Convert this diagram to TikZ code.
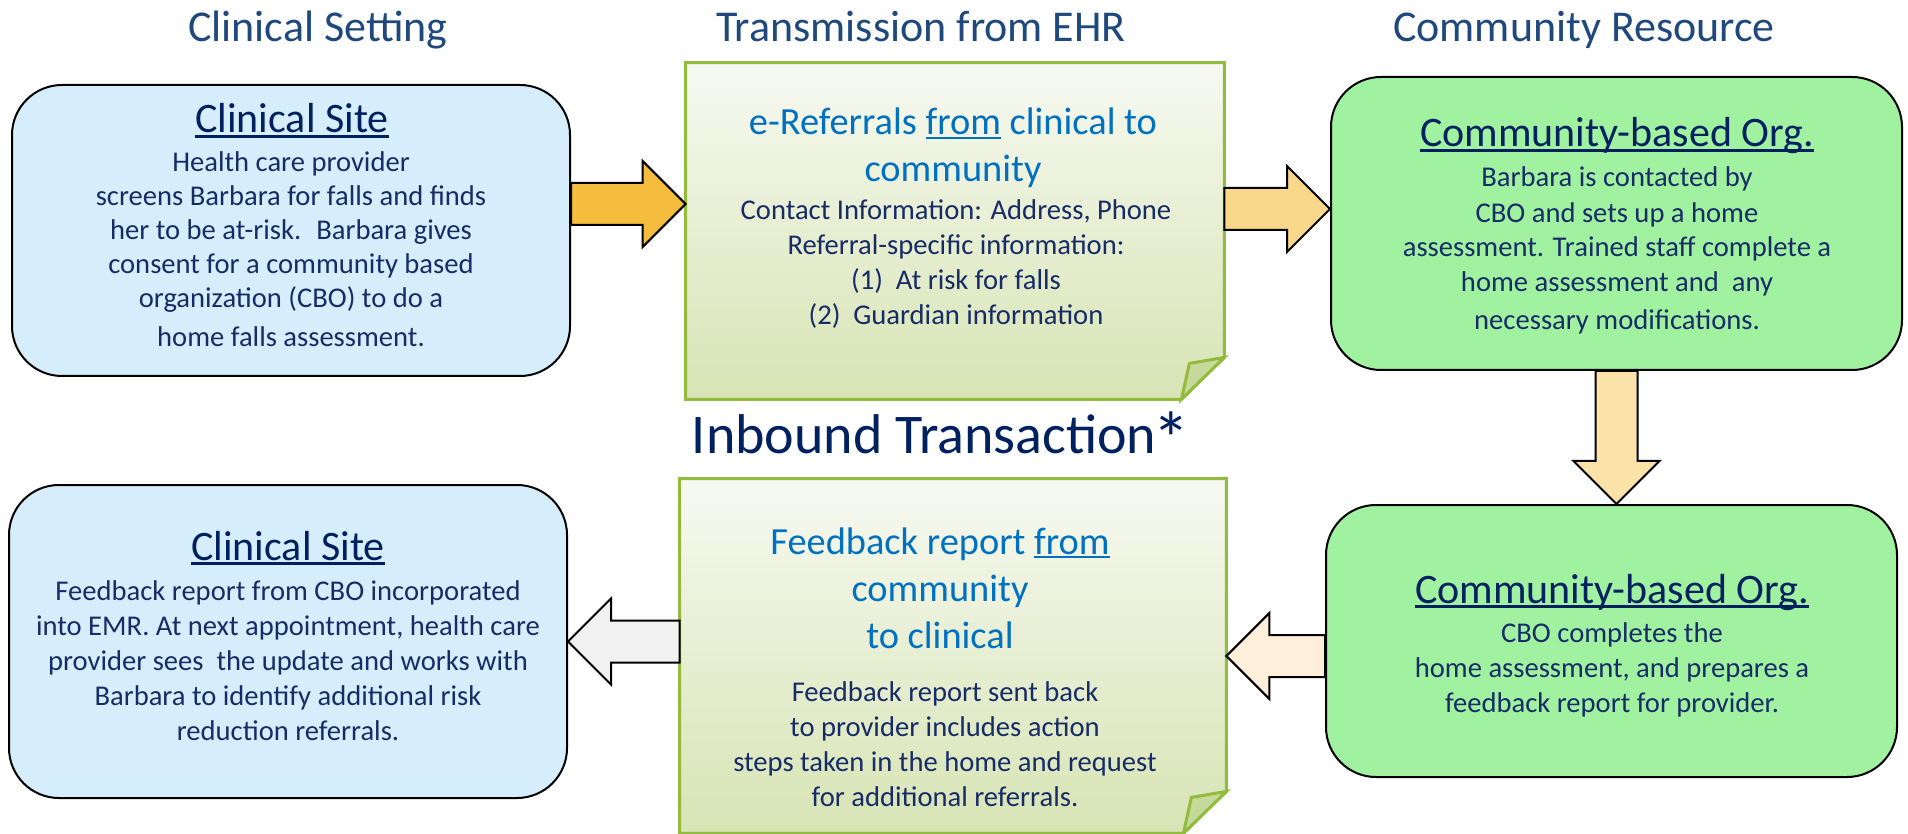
\documentclass[tikz,border=0pt]{standalone}
\usepackage{fontspec}
\setmainfont{Carlito}
\usetikzlibrary{calc,positioning}

\definecolor{titleblue}{HTML}{1F497D}
\definecolor{navy}{HTML}{002060}
\definecolor{bodyblue}{HTML}{172C66}
\definecolor{linkblue}{HTML}{0070C0}
\definecolor{sitefill}{HTML}{D6EEFB}
\definecolor{cbofill}{HTML}{A0F2A0}
\definecolor{noteedge}{HTML}{93BC3F}
\definecolor{notetop}{HTML}{F7F9F1}
\definecolor{notebot}{HTML}{D7E4B4}
\definecolor{flapfill}{HTML}{C5D99A}
\definecolor{arrowA}{HTML}{F4BD3D}
\definecolor{arrowB}{HTML}{F9D88C}
\definecolor{arrowC}{HTML}{FAE2A9}
\definecolor{arrowD}{HTML}{FDEFD9}
\definecolor{arrowE}{HTML}{F1F1F1}

% underline sitting just under the baseline
\newcommand{\uln}[1]{\setbox0\hbox{#1}\rlap{\rule[-0.11em]{\wd0}{0.065em}}\box0\relax}

% block arrow from tail #1 to tip #2
\newcommand{\flowarrow}[3]{%
	\coordinate (fa-t) at (#1);
	\coordinate (fa-e) at (#2);
	\coordinate (fa-h) at ($(fa-e)!21.5pt!(fa-t)$);
	\draw [flow, fill=#3] ($(fa-t)!10.5pt!90:(fa-e)$) -- ($(fa-h)!10.5pt!-90:(fa-t)$) -- ($(fa-h)!21.5pt!-90:(fa-t)$) -- (fa-e)
		-- ($(fa-h)!21.5pt!90:(fa-t)$) -- ($(fa-h)!10.5pt!90:(fa-t)$) -- ($(fa-t)!10.5pt!-90:(fa-e)$) -- cycle;
}

\begin{document}
\begin{tikzpicture}[x=0.5pt, y=0.5pt,
		section/.style={font=\fontsize{22pt}{26pt}\selectfont, text=titleblue, anchor=base, inner sep=0},
		head/.style={font=\fontsize{21pt}{25pt}\selectfont, text=navy, anchor=base, inner sep=0},
		body/.style={font=\fontsize{14.3pt}{17.5pt}\selectfont, text=bodyblue, align=center, anchor=base, inner sep=0},
		notehead/.style={font=\fontsize{19.2pt}{23.5pt}\selectfont, text=linkblue, align=center, anchor=base, inner sep=0},
		sitebox/.style={draw, line width=1pt, rounded corners=25pt, fill=sitefill, minimum width=279pt},
		cbobox/.style={draw, line width=1pt, rounded corners=25pt, fill=cbofill, minimum width=285.5pt},
		notebox/.style={inner sep=0},
		noteline/.style={draw=noteedge, line width=1.5pt, line join=miter},
		flow/.style={draw, line width=1pt, line join=miter}]
		\useasboundingbox (0,0) rectangle (1908,-834);

		% column titles
		\node [section] (tclin) at (318,-42) {Clinical Setting};
		\node [section] (ttrans) at (921,-42) {Transmission from EHR};
		\node [section] (tcomm) at (1584,-42) {Community Resource};

		% rounded boxes
		\node [sitebox, minimum height=145.5pt] (site1) at (291,-230.5) {};
		\node [cbobox, minimum height=146.5pt] (cbo1) at (1616.5,-223.5) {};
		\node [cbobox, minimum height=136pt] (cbo2) at (1611.5,-641) {};
		\node [sitebox, minimum height=156.5pt] (site2) at (288,-641.5) {};

		% notes with a turned corner
		\node [notebox, minimum width=269pt, minimum height=168pt] (note1) at (955,-231) {};
		\node [notebox, minimum width=273pt, minimum height=177pt] (note2) at (953,-656) {};
		\foreach \n in {note1, note2} {
			\draw [noteline, top color=notetop, bottom color=notebot] (\n.north west) -- (\n.north east) -- ([yshift=21pt]\n.south east)
				-- ([xshift=-21.5pt]\n.south east) -- (\n.south west) -- cycle;
			\draw [noteline, fill=flapfill] ([yshift=21pt]\n.south east) -- ([xshift=-17.5pt, yshift=18pt]\n.south east)
				-- ([xshift=-21.5pt]\n.south east) -- cycle;
		}

		% arrows between the steps
		\flowarrow{site1.east |- 0,-204}{note1.west |- 0,-204}{arrowA}
		\flowarrow{note1.east |- 0,-209}{cbo1.west |- 0,-209}{arrowB}
		\flowarrow{cbo1.south}{cbo1.south |- cbo2.north}{arrowC}
		\flowarrow{cbo2.west |- 0,-656}{note2.east |- 0,-656}{arrowD}
		\flowarrow{note2.west |- site2.east}{site2.east}{arrowE}

		% top row (multi-line texts sit on their last baseline)
		\node [head] (site1h) at (292,-133) {\uln{Clinical Site}};
		\node [body, font=\fontsize{14.3pt}{17pt}\selectfont] (site1t) at (291,-347) {Health care provider\\ screens Barbara for falls and finds\\
			her to be at-risk.~ Barbara gives\\ consent for a community based\\ organization (CBO) to do a\\[2.5pt] home falls assessment.};
		\node [notehead] (note1h) at (953,-182) {e-Referrals \uln{from} clinical to\\ community};
		\node [body] (note1t) at (956,-325) {Contact Information: Address, Phone\\ Referral-specific information:\\
			(1)\hspace{0.45em}At risk for falls\\ (2)\hspace{0.45em}Guardian information};
		\node [head] (cbo1h) at (1617,-147) {\uln{Community-based Org.}};
		\node [body] (cbo1t) at (1617,-330) {Barbara is contacted by\\ CBO and sets up a home\\ assessment. Trained staff complete a\\
			home assessment and~ any\\[1.5pt] necessary modifications.};

		\node [font=\fontsize{28pt}{32pt}\selectfont, text=navy, anchor=base, inner sep=0] (inbound) at (941,-453)
			{Inbound Transaction\kern-0.07em\raisebox{-0.23em}{\scalebox{1.35}{*}}};

		% bottom row
		\node [head] (cbo2h) at (1612,-603) {\uln{Community-based Org.}};
		\node [body] (cbo2t) at (1612,-712) {CBO completes the\\ home assessment, and prepares a\\ feedback report for provider.};
		\node [notehead] (note2h) at (940,-648) {Feedback report \uln{from}\\ community\\ to clinical};
		\node [body] (note2t) at (945,-806) {Feedback report sent back\\ to provider includes action\\
			steps taken in the home and request\\ for additional referrals.};
		\node [head] (site2h) at (288,-560) {\uln{Clinical Site}};
		\node [body] (site2t) at (288,-740) {Feedback report from CBO incorporated\\ into EMR. At next appointment, health care\\
			provider sees~ the update and works with\\ Barbara to identify additional risk\\ reduction referrals.};
	\end{tikzpicture}
\end{document}
